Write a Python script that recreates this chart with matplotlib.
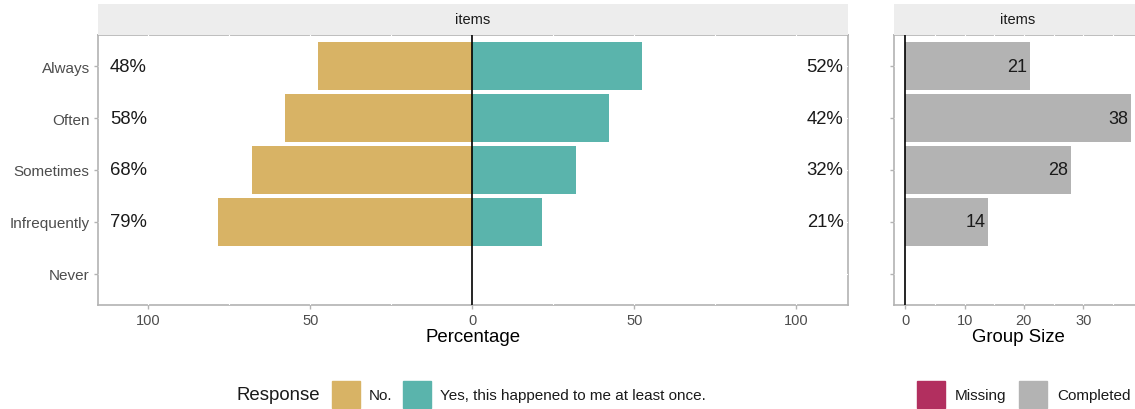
import numpy as np
import matplotlib
matplotlib.use("Agg")
import matplotlib.pyplot as plt
from matplotlib.patches import Rectangle

plt.rcParams['font.family'] = ['Liberation Sans', 'DejaVu Sans']

# data
items = ['Always', 'Often', 'Sometimes', 'Infrequently', 'Never']
pct_no = [47.6, 57.9, 67.9, 78.6, np.nan]
pct_yes = [52.4, 42.1, 32.1, 21.4, np.nan]
group_size = [21, 38, 28, 14, np.nan]
responses = ['No.', 'Yes, this happened to me at least once.']
resp_colors = ['#D8B365', '#5AB4AC']
size_labels = ['Missing', 'Completed']
size_colors = ['#B22F5F', '#B3B3B3']

W, H = 1135, 410
fig = plt.figure(figsize=(W / 100, H / 100), dpi=100)

def fx(px):
    return px / W

def fy(px):
    return 1 - px / H

border = '#B3B3B3'
tick_col = '#4D4D4D'
ypos = np.arange(len(items))[::-1]


def style_panel(ax, major, minor):
    for s in ax.spines.values():
        s.set_color(border)
        s.set_linewidth(1.2)
        s.set_zorder(1)
    for v in list(major) + list(minor):
        ax.axvline(v, color='white', lw=0.8, zorder=1.5)
    for v in ypos:
        ax.axhline(v, color='white', lw=0.8, zorder=1.5)
    ax.axvline(0, color='black', lw=1.2, zorder=4)
    ax.tick_params(axis='both', color=border, length=3, width=1.0,
                   labelcolor=tick_col, labelsize=10.5, pad=3)
    ax.set_ylim(-0.6, 4.6)
    ax.set_yticks(ypos)


def strip(x0, x1):
    sax = fig.add_axes([fx(x0), fy(36), fx(x1 - x0), fy(5) - fy(36)])
    sax.set_facecolor('#EDEDED')
    for s in sax.spines.values():
        s.set_visible(False)
    sax.set_xticks([])
    sax.set_yticks([])
    sax.text(0.5, 0.5, 'items', ha='center', va='center', fontsize=10.5,
             color='#1A1A1A', transform=sax.transAxes)


# left panel: diverging percentages
ax1 = fig.add_axes([fx(98), fy(306), fx(750), fy(36) - fy(306)])
style_panel(ax1, [-100, -50, 0, 50, 100], [-75, -25, 25, 75])
ax1.barh(ypos, [-v for v in pct_no], height=0.92, color=resp_colors[0], zorder=3)
ax1.barh(ypos, pct_yes, height=0.92, color=resp_colors[1], zorder=3)
ax1.set_xlim(-115.5, 116)
ax1.set_xticks([-100, -50, 0, 50, 100])
ax1.set_xticklabels(['100', '50', '0', '50', '100'])
ax1.set_yticklabels(items, fontsize=11)
for y, n, p in zip(ypos, pct_no, pct_yes):
    if np.isnan(n):
        continue
    ax1.text(-111.8, y, f'{n:.0f}%', ha='left', va='center', fontsize=13.3,
             color='#1A1A1A', zorder=5)
    ax1.text(114.6, y, f'{p:.0f}%', ha='right', va='center', fontsize=13.3,
             color='#1A1A1A', zorder=5)
ax1.set_xlabel('Percentage', fontsize=13.4, labelpad=0)
strip(98, 848)

# right panel: group sizes
ax2 = fig.add_axes([fx(894), fy(306), fx(248), fy(36) - fy(306)])
style_panel(ax2, [0, 10, 20, 30], [5, 15, 25, 35])
ax2.barh(ypos, group_size, height=0.92, color=size_colors[1], zorder=3)
ax2.set_xlim(-1.9, 39.9)
ax2.set_xticks([0, 10, 20, 30])
ax2.set_yticklabels([])
for y, n in zip(ypos, group_size):
    if np.isnan(n):
        continue
    ax2.annotate(f'{n:.0f}', (n, y), xytext=(-2, 0), textcoords='offset points',
                 ha='right', va='center', fontsize=13, color='#1A1A1A', zorder=5)
ax2.set_xlabel('Group Size', fontsize=13.4, labelpad=0)
strip(894, 1142)
ax1.xaxis.set_label_coords(0.5, (306 - 338) / 270 + 0.0, transform=ax1.transAxes)
ax1.xaxis.label.set_va('center')
ax2.xaxis.set_label_coords(0.5, (306 - 338) / 270, transform=ax2.transAxes)
ax2.xaxis.label.set_va('center')

# legends
ly = 396
fig.text(fx(236), fy(ly), 'Response', fontsize=13.4, va='center', ha='left',
         color='#1A1A1A')
for x0, lab, col in zip([332, 403], responses, resp_colors):
    fig.patches.append(Rectangle((fx(x0), fy(409)), fx(28), fy(382) - fy(409),
                                 transform=fig.transFigure, color=col))
    fig.text(fx(x0 + 37), fy(ly), lab, fontsize=11, va='center', ha='left',
             color='#1A1A1A')
for x0, lab, col in zip([917, 1019], size_labels, size_colors):
    fig.patches.append(Rectangle((fx(x0), fy(409)), fx(28), fy(382) - fy(409),
                                 transform=fig.transFigure, color=col))
    fig.text(fx(x0 + 38), fy(ly), lab, fontsize=11, va='center', ha='left',
             color='#1A1A1A')

fig.savefig('out.png', dpi=100)
